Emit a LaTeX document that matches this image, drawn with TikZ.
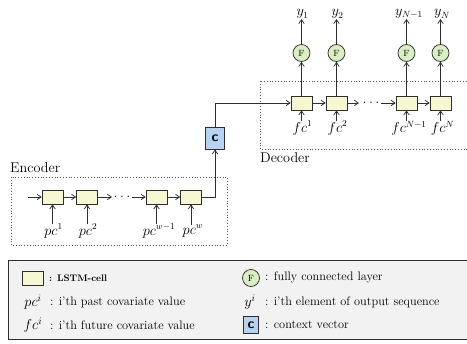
\documentclass[tikz,border=0pt]{standalone}
\usetikzlibrary{arrows.meta}
\definecolor{cellfill}{HTML}{F7F7D2}
\definecolor{ffill}{HTML}{D9EFC2}
\definecolor{cfill}{HTML}{B7D3F2}
\definecolor{linec}{HTML}{2E2E2E}
\begin{document}
\begin{tikzpicture}[x=1pt,y=-1pt,
  >={Straight Barb[length=4pt,width=5.5pt]},
  conn/.style={line width=0.75pt, draw=linec},
  cell/.style={draw=linec, line width=0.75pt, fill=cellfill, minimum width=21pt, minimum height=14pt, inner sep=0pt},
  fnode/.style={draw=linec, line width=0.75pt, fill=ffill, circle, minimum size=17pt, inner sep=0pt, font=\fontsize{9}{10}\selectfont},
  cnode/.style={draw=linec, line width=0.9pt, fill=cfill, minimum width=19pt, minimum height=22pt, inner sep=0pt, font=\fontsize{14}{15}\sffamily\bfseries},
  lab/.style={inner sep=0pt, font=\fontsize{13.3}{15}\selectfont},
  region/.style={draw=linec!80, dotted, line width=0.8pt},
  title/.style={inner sep=0pt, font=\fontsize{14.2}{16}\selectfont},
  legtxt/.style={inner sep=0pt, anchor=west, font=\fontsize{12.3}{14}\selectfont},
  legmath/.style={inner sep=0pt, font=\fontsize{14.5}{16}\selectfont}
]
\useasboundingbox (0,0) rectangle (467,344);
% regions
\draw[region] (11,177) rectangle (227,245);
\draw[region] (260,81) rectangle (480,149);
\node[title, anchor=south west] (enc) at (10,173) {Encoder};
\node[title, anchor=north west] (dec) at (260,152) {Decoder};

% encoder cells
\node[cell] (e1) at (52.5,197) {};
\node[cell] (e2) at (87,197) {};
\node[cell] (e3) at (156.5,197) {};
\node[cell] (e4) at (191,197) {};
\coordinate (ein) at (28,197);
\coordinate (e2o) at (112,197);
\coordinate (e3i) at (132,197);
\node[lab] (edots) at (122,197) {$\ldots$};
\draw[conn,->] (ein) -- (e1);
\draw[conn,->] (e1) -- (e2);
\draw[conn,->] (e2) -- (e2o);
\draw[conn,->] (e3i) -- (e3);
\draw[conn,->] (e3) -- (e4);
\node[lab] (p1) at (53.5,231) {$pc^1$};
\node[lab] (p2) at (88,231) {$pc^2$};
\node[lab] (p3) at (159,231) {$pc^{w-1}$};
\node[lab] (p4) at (193,231) {$pc^w$};
\draw[conn,->] (e1|-p1.north) -- (e1);
\draw[conn,->] (e2|-p2.north) -- (e2);
\draw[conn,->] (e3|-p3.north) -- (e3);
\draw[conn,->] (e4|-p4.north) -- (e4);

% context
\node[cnode] (c) at (215,138) {c};
\draw[conn,->] (e4.east) -| (c.south);

% decoder cells
\node[cell] (d1) at (301.5,103) {};
\node[cell] (d2) at (336.5,103) {};
\node[cell] (d3) at (406.5,103) {};
\node[cell] (d4) at (440.5,103) {};
\draw[conn,->] (c.north) |- (d1.west);
\coordinate (d2o) at (359,103);
\coordinate (d3i) at (381,103);
\node[lab] (ddots) at (371,103) {$\ldots$};
\draw[conn,->] (d1) -- (d2);
\draw[conn,->] (d2) -- (d2o);
\draw[conn,->] (d3i) -- (d3);
\draw[conn,->] (d3) -- (d4);
\node[lab] (f1) at (302.5,128) {$fc^1$};
\node[lab] (f2) at (337.5,128) {$fc^2$};
\node[lab] (f3) at (409,128) {$fc^{N-1}$};
\node[lab] (f4) at (442.5,128) {$fc^N$};
\draw[conn,->] (d1|-f1.north) -- (d1);
\draw[conn,->] (d2|-f2.north) -- (d2);
\draw[conn,->] (d3|-f3.north) -- (d3);
\draw[conn,->] (d4|-f4.north) -- (d4);

% fully connected
\node[fnode] (F1) at (301.5,53) {F};
\node[fnode] (F2) at (336.5,53) {F};
\node[fnode] (F3) at (406.5,53) {F};
\node[fnode] (F4) at (440.5,53) {F};
\draw[conn,->] (d1) -- (F1);
\draw[conn,->] (d2) -- (F2);
\draw[conn,->] (d3) -- (F3);
\draw[conn,->] (d4) -- (F4);
\node[lab, anchor=south] (y1) at (302.5,19) {$y_1$};
\node[lab, anchor=south] (y2) at (337.5,19) {$y_2$};
\node[lab, anchor=south] (y3) at (409,19) {$y_{N-1}$};
\node[lab, anchor=south] (y4) at (442,19) {$y_N$};
\draw[conn,->] (F1) -- (F1|-y1.south);
\draw[conn,->] (F2) -- (F2|-y2.south);
\draw[conn,->] (F3) -- (F3|-y3.south);
\draw[conn,->] (F4) -- (F4|-y4.south);

% legend
\draw[fill=black!5, line width=0.9pt, draw=linec] (8.5,260) rectangle (480,339);
\node[cell] (lcell) at (33,278) {};
\node[inner sep=0pt, anchor=west, font=\fontsize{9.5}{10}\selectfont\bfseries] (lcellt) at (49,278) {: LSTM-cell};
\node[legmath] (lpc) at (33,302) {$pc^i$};
\node[legtxt] (lpct) at (50,302) {: i'th past covariate value};
\node[legmath] (lfc) at (33,325) {$fc^i$};
\node[legtxt] (lfct) at (50,325) {: i'th future covariate value};
\node[fnode] (lF) at (251,278) {F};
\node[legtxt] (lFt) at (265,277) {: fully connected layer};
\node[legmath] (ly) at (250,302) {$y^i$};
\node[legtxt] (lyt) at (265,302) {: i'th element of output sequence};
\node[cnode, minimum width=15pt, minimum height=17pt] (lc) at (251,325) {c};
\node[legtxt] (lct) at (265,325) {: context vector};
\end{tikzpicture}
\end{document}
